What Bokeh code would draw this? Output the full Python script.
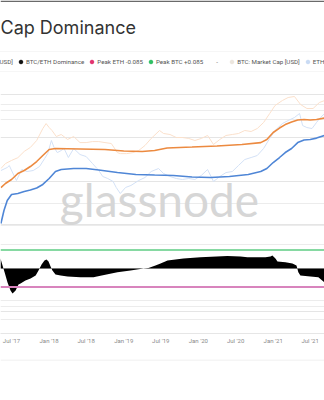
import pandas as pd
from bokeh.plotting import figure
from bokeh.layouts import column
from bokeh.models import (Range1d, LogScale, Legend, LegendItem, Label, Span, BoxAnnotation,
                          MonthsTicker, DatetimeTickFormatter, Grid, FixedTicker, ColumnDataSource)
from bokeh.embed import file_html
from bokeh.resources import INLINE

# ---------------- data (market caps in billions USD) ----------------
btc_mc_dates = ["2017-05-10", "2017-06-01", "2017-07-01", "2017-08-01", "2017-09-01", "2017-10-01",
                "2017-11-01", "2017-12-01", "2017-12-17", "2018-01-01", "2018-01-15", "2018-02-05",
                "2018-03-01", "2018-04-01", "2018-05-01", "2018-06-01", "2018-07-01", "2018-08-01",
                "2018-09-01", "2018-10-01", "2018-11-01", "2018-12-01", "2018-12-15", "2019-01-15",
                "2019-02-15", "2019-03-15", "2019-04-15", "2019-05-15", "2019-06-25", "2019-07-15",
                "2019-08-15", "2019-09-15", "2019-10-15", "2019-11-15", "2019-12-15", "2020-01-15",
                "2020-02-15", "2020-03-15", "2020-04-15", "2020-05-15", "2020-06-15", "2020-07-15",
                "2020-08-15", "2020-09-15", "2020-10-15", "2020-11-15", "2020-12-15", "2021-01-10",
                "2021-02-15", "2021-03-15", "2021-04-15", "2021-05-15", "2021-06-15", "2021-07-15",
                "2021-08-15", "2021-09-10"]
btc_market_cap = [35, 45, 53, 61, 84, 103, 147, 271, 350, 285, 245, 180, 200, 155, 180, 132, 132, 139,
                  139, 132, 126, 79, 75, 75, 79, 88, 114, 163, 245, 210, 200, 171, 171, 163, 147, 163,
                  190, 120, 155, 190, 200, 210, 245, 233, 271, 369, 585, 880, 1137, 1326, 1395, 927,
                  755, 755, 1026, 1137]

eth_mc_dates = ["2017-05-10", "2017-06-10", "2017-06-20", "2017-07-15", "2017-07-25", "2017-08-20",
                "2017-09-15", "2017-10-15", "2017-11-15", "2017-12-10", "2017-12-25", "2018-01-12",
                "2018-01-25", "2018-02-10", "2018-03-01", "2018-03-15", "2018-04-05", "2018-05-01",
                "2018-06-01", "2018-07-01", "2018-08-01", "2018-09-01", "2018-09-20", "2018-10-15",
                "2018-11-10", "2018-11-25", "2018-12-15", "2019-01-10", "2019-02-05", "2019-03-15",
                "2019-04-15", "2019-05-15", "2019-06-20", "2019-07-15", "2019-08-15", "2019-09-15",
                "2019-10-15", "2019-11-15", "2019-12-15", "2020-01-15", "2020-02-15", "2020-03-15",
                "2020-04-15", "2020-05-15", "2020-06-15", "2020-07-15", "2020-08-15", "2020-09-15",
                "2020-10-15", "2020-11-15", "2020-12-15", "2021-01-10", "2021-02-15", "2021-03-15",
                "2021-04-15", "2021-05-10", "2021-05-25", "2021-06-15", "2021-07-10", "2021-08-01",
                "2021-08-20", "2021-09-10"]
eth_market_cap = [31.6, 36.9, 40.8, 23.3, 19, 33.3, 30, 31.6, 38.8, 58.4, 75.5, 147, 103, 79, 88, 97.5,
                  61.5, 97.5, 71.7, 64.7, 45.2, 31.6, 23.3, 21, 18, 13.3, 9.75, 13.3, 14.7, 19, 22.1,
                  30, 35, 27.1, 23.3, 21, 20, 21, 20, 24.5, 33.3, 18, 23.3, 28.5, 30, 40.8, 55.5,
                  61.5, 68.1, 97.5, 163, 245, 350, 408, 476, 585, 316, 285, 271, 369, 476, 585]

btc_rc_dates = ["2017-05-10", "2017-06-01", "2017-07-01", "2017-08-01", "2017-09-01", "2017-10-01",
                "2017-11-01", "2017-12-01", "2018-01-01", "2018-02-01", "2018-06-01", "2018-10-01",
                "2019-01-01", "2019-04-01", "2019-06-01", "2019-08-01", "2019-12-01", "2020-04-01",
                "2020-08-01", "2020-11-01", "2020-12-01", "2021-01-01", "2021-02-01", "2021-03-01",
                "2021-04-01", "2021-05-01", "2021-06-01", "2021-07-01", "2021-08-01", "2021-09-10"]
btc_realized_cap = [13.2, 16.3, 20, 27.1, 31.6, 38.8, 50.1, 68.1, 92.7, 97.5, 95, 92.7, 85.8, 83.6, 88,
                    100, 105, 111, 120, 132, 155, 221, 278, 332, 378, 420, 430, 420, 430, 466]

eth_rc_dates = ["2017-05-10", "2017-05-25", "2017-06-10", "2017-07-01", "2017-08-01", "2017-09-01",
                "2017-10-01", "2017-11-01", "2017-12-01", "2018-01-01", "2018-02-01", "2018-03-01",
                "2018-05-01", "2018-07-01", "2018-09-01", "2018-12-01", "2019-03-01", "2019-06-01",
                "2019-09-01", "2019-12-01", "2020-03-01", "2020-06-01", "2020-09-01", "2020-11-01",
                "2020-12-01", "2021-01-01", "2021-02-01", "2021-03-01", "2021-04-01", "2021-05-01",
                "2021-06-01", "2021-07-01", "2021-08-01", "2021-09-10"]
eth_realized_cap = [2.1, 4.08, 6.8, 9.26, 9.75, 10.8, 11.7, 12.9, 15.5, 21, 30, 33.3, 35, 35, 32.4,
                    28.5, 25.8, 25.1, 24.5, 22.7, 22.1, 23.3, 25.8, 30, 35, 47.6, 61.5, 79.4, 97.5,
                    132, 151, 155, 166, 190]

dom_dates = ["2017-05-08", "2017-05-18", "2017-05-28", "2017-06-11", "2017-06-26", "2017-07-06",
             "2017-07-21", "2017-08-04", "2017-08-14", "2017-09-07", "2017-10-02", "2017-10-27",
             "2017-11-10", "2017-11-25", "2017-12-09", "2017-12-19", "2017-12-29", "2018-01-08",
             "2018-01-17", "2018-02-01", "2018-02-26", "2018-04-01", "2018-06-03", "2018-08-06",
             "2018-09-09", "2018-12-01", "2019-02-03", "2019-04-07", "2019-05-02", "2019-06-05",
             "2019-06-30", "2019-08-03", "2019-09-11", "2019-10-20", "2020-01-11", "2020-05-22",
             "2020-07-25", "2020-08-28", "2020-11-24", "2020-12-19", "2020-12-28", "2021-01-12",
             "2021-01-22", "2021-03-02", "2021-04-05", "2021-04-25", "2021-05-04", "2021-05-14",
             "2021-07-02", "2021-08-10", "2021-09-09"]
btc_eth_dominance = [0.046, 0.014, -0.018, -0.064, -0.101, -0.115, -0.101, -0.074, -0.069, -0.055,
                     -0.046, -0.032, -0.009, 0.018, 0.037, 0.041, 0.032, 0.009, -0.009, -0.028,
                     -0.032, -0.037, -0.041, -0.041, -0.034, -0.018, -0.009, 0.0, 0.002, 0.014,
                     0.023, 0.037, 0.041, 0.046, 0.051, 0.057, 0.055, 0.051, 0.051, 0.055, 0.060,
                     0.046, 0.032, 0.028, 0.023, 0.014, -0.018, -0.032, -0.037, -0.041, -0.064]

peak_btc = 0.085
peak_eth = -0.085

legend_labels = ["ETH: Realized Cap [USD]", "BTC/ETH Dominance", "Peak ETH -0.085",
                 "Peak BTC +0.085", "-", "BTC: Market Cap [USD]", "ETH: Market Cap [USD]"]
title_text = "Cap Dominance"
watermark = "glassnode"

FONT = "Inter"
LFONT = "Roboto"
W = 324
NAN = float("nan")

# ---------------- header: title + legend ----------------
head = figure(width=W, height=73, output_backend="svg", toolbar_location=None, title=None,
              x_axis_location=None, y_axis_location=None,
              x_range=Range1d(0, 1), y_range=Range1d(0, 1),
              min_border_left=0, min_border_right=0, min_border_top=0, min_border_bottom=0)
head.outline_line_color = None
head.grid.visible = False

head.add_layout(BoxAnnotation(top=73, bottom=71.6, top_units="screen", bottom_units="screen",
                              fill_color="#6a6a6a", fill_alpha=1, line_alpha=0))
head.add_layout(Label(x=0, y=46, x_units="screen", y_units="screen", text=title_text,
                      text_font=FONT, text_font_size="18px", text_color="#333333",
                      text_baseline="middle"))

colors = ["#4f86d6", "#111111", "#e2336f", "#2fbf63", "#ffffff", "#ece6de", "#c9dbf4"]
alphas = [1, 1, 1, 1, 0, 1, 1]
items = []
for lab, c, a in zip(legend_labels, colors, alphas):
    r = head.scatter(x=[NAN], y=[NAN], size=4, fill_color=c, line_color=c,
                     fill_alpha=a, line_alpha=a)
    items.append(LegendItem(label=lab, renderers=[r]))
legend = Legend(items=items, orientation="horizontal", location=(-69, 1),
                label_text_font=LFONT, label_text_font_size="6.2px", label_text_color="#555555",
                glyph_width=9, glyph_height=11, label_height=11, label_width=8,
                label_standoff=1, spacing=3,
                padding=4, margin=0, border_line_color="#eeeeee", border_line_width=1,
                background_fill_color="white", background_fill_alpha=1)
head.add_layout(legend, "center")

# ---------------- main chart ----------------
x_start, x_end = pd.Timestamp("2017-05-08"), pd.Timestamp("2021-09-09")
p = figure(width=W, height=286, output_backend="svg", toolbar_location=None, title=None,
           x_axis_type="datetime", y_axis_location=None,
           x_range=Range1d(x_start, x_end), y_range=Range1d(-0.299, 0.896),
           min_border_left=0, min_border_right=0, min_border_top=0, min_border_bottom=26)
p.outline_line_color = None
p.extra_y_ranges = {"cap": Range1d(10 ** -2.122, 10 ** 3.656)}
p.extra_y_scales = {"cap": LogScale()}

p.xgrid.visible = False
p.add_layout(Grid(dimension=1, ticker=FixedTicker(
    ticks=[0.754, 0.726, 0.685, 0.299, 0.198, 0.110, -0.147, -0.175, -0.234]),
    grid_line_color="#ececec", grid_line_width=1))

ax = p.xaxis[0]
ax.ticker = MonthsTicker(months=[0, 6])
fmt = "%b '%y"
ax.formatter = DatetimeTickFormatter(months=fmt, years=fmt, days=fmt, hours=fmt)
ax.major_tick_line_color = None
ax.minor_tick_line_color = None
ax.major_tick_out = 0
ax.major_tick_in = 0
ax.minor_tick_out = 0
ax.axis_line_color = "#e6e6e6"
ax.major_label_text_font = LFONT
ax.major_label_text_font_size = "6px"
ax.major_label_text_color = "#8a8a8a"
ax.major_label_standoff = 3

p.add_layout(Label(x=159, y=134, x_units="screen", y_units="screen", text=watermark,
                   text_align="center", text_baseline="middle", text_font="Lato",
                   text_font_size="46px", text_color="#d6d6d6", level="underlay"))

src = lambda d, v: ColumnDataSource(dict(x=pd.to_datetime(d), y=v))
p.line("x", "y", source=src(btc_mc_dates, btc_market_cap), y_range_name="cap",
       line_color="#fbe0cb", line_width=1)
p.line("x", "y", source=src(eth_mc_dates, eth_market_cap), y_range_name="cap",
       line_color="#d3e1f6", line_width=1)
p.line("x", "y", source=src(btc_rc_dates, btc_realized_cap), y_range_name="cap",
       line_color="#ec8a40", line_width=1.6)
p.line("x", "y", source=src(eth_rc_dates, eth_realized_cap), y_range_name="cap",
       line_color="#4f86d6", line_width=1.6)

dsrc = ColumnDataSource(dict(x=pd.to_datetime(dom_dates), y=btc_eth_dominance))
p.varea(x="x", y1=0, y2="y", source=dsrc, fill_color="black")

p.add_layout(Span(location=peak_btc, dimension="width", line_color="#86d9a2", line_width=2))
p.add_layout(Span(location=peak_eth, dimension="width", line_color="#d884bd", line_width=2))

# ---------------- footer rule ----------------
foot = figure(width=W, height=41, output_backend="svg", toolbar_location=None, title=None,
              x_axis_location=None, y_axis_location=None,
              x_range=Range1d(0, 1), y_range=Range1d(0, 1),
              min_border_left=0, min_border_right=0, min_border_top=0, min_border_bottom=0)
foot.outline_line_color = None
foot.grid.visible = False
foot.add_layout(BoxAnnotation(top=41, bottom=40, top_units="screen", bottom_units="screen",
                              fill_color="#ebebeb", fill_alpha=1, line_alpha=0))

layout = column(head, p, foot, spacing=0)
open("out.html", "w").write(file_html(layout, INLINE))
